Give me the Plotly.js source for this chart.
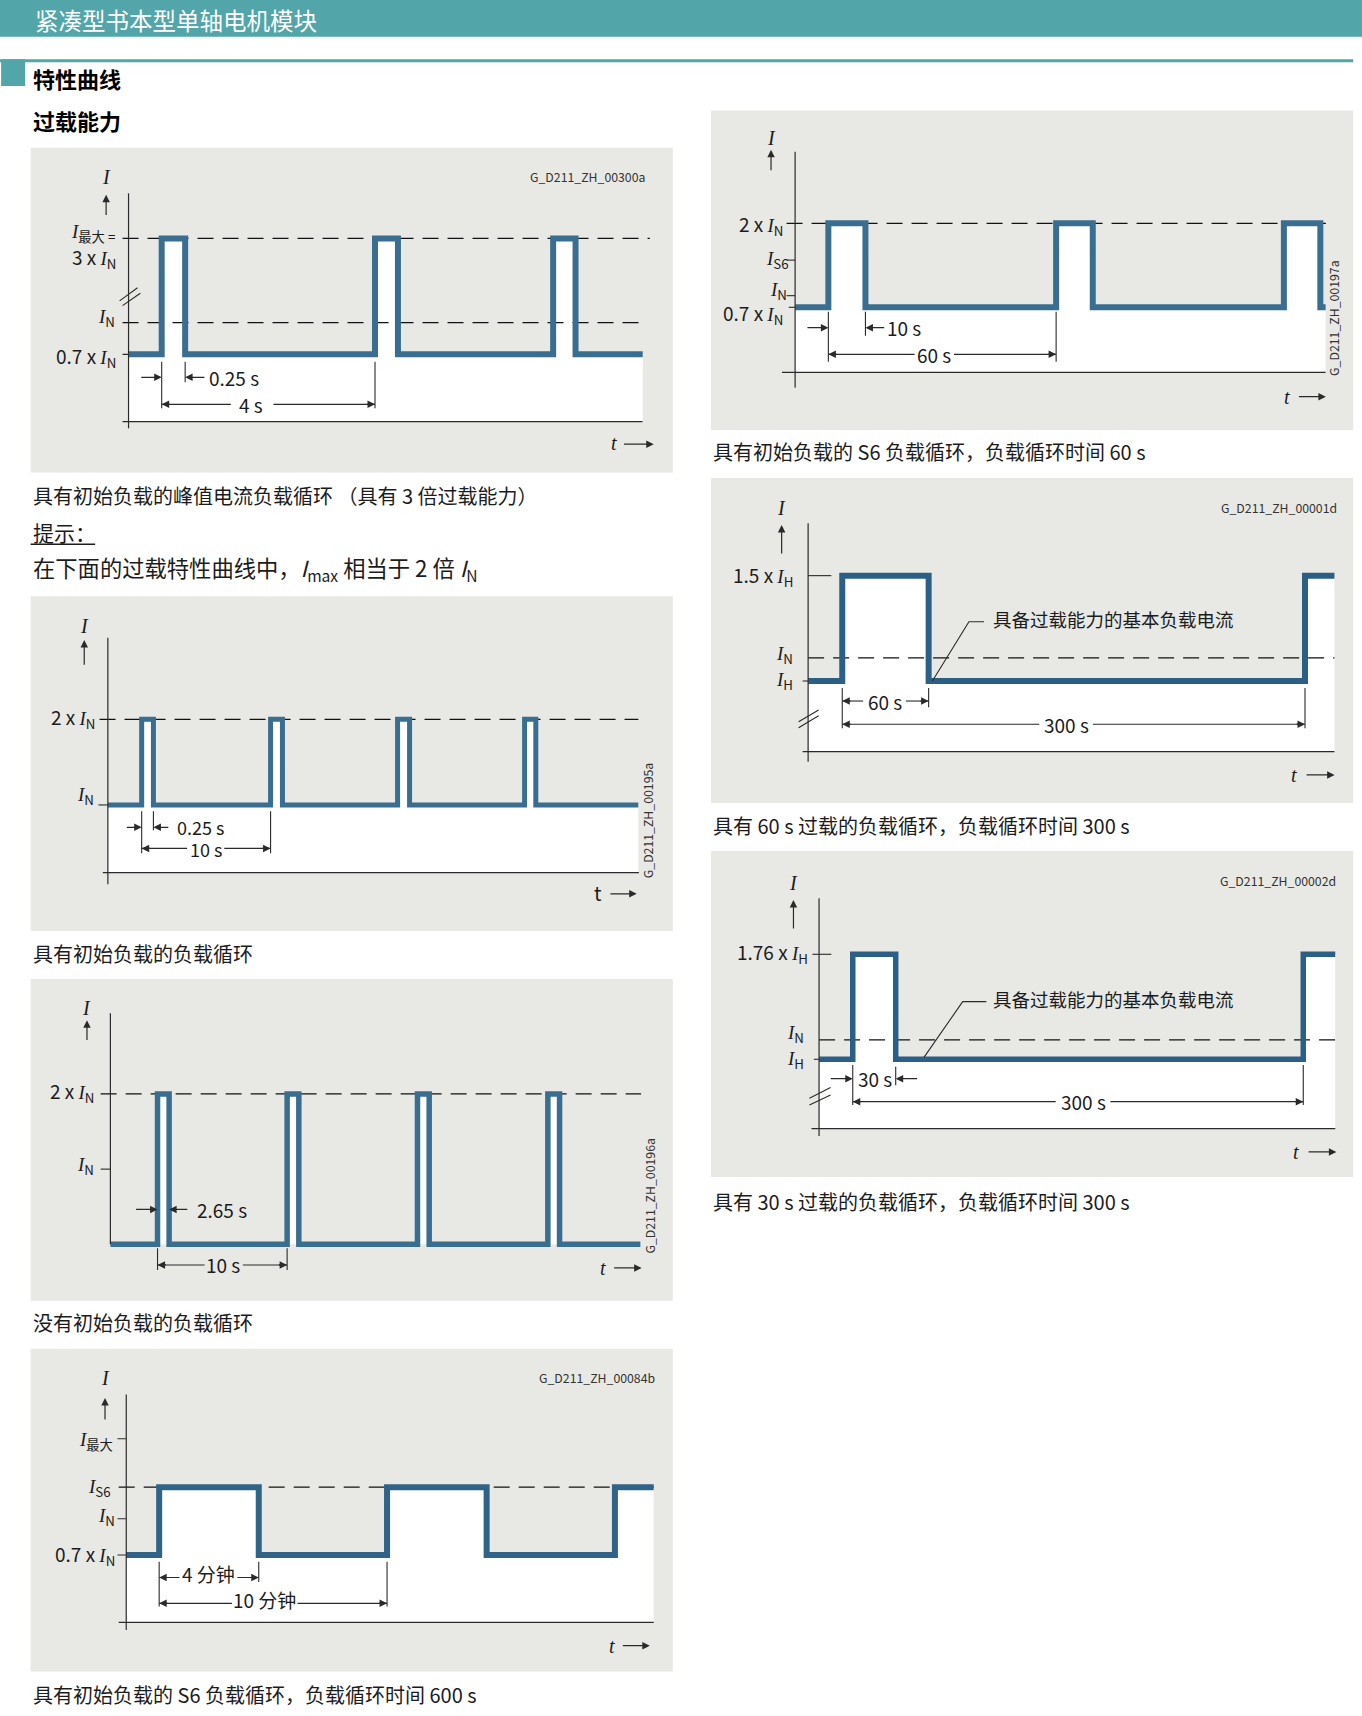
<!DOCTYPE html>
<html>
<head>
<meta charset="utf-8">
<script src="https://cdn.plot.ly/plotly-3.0.1.min.js"></script>
<style>
html,body{margin:0;padding:0;background:#ffffff;}
#chart{width:1362px;height:1716px;}
</style>
</head>
<body>
<div id="chart"></div>
<script>
// ================= DATA (schematic values) =================
const SI = '<span style="font-family:Liberation Serif"><i>I</i></span>';
function lbl(pre, sub) { return pre + SI + '<sub>' + sub + '</sub>'; }

// Panel 1 – peak current duty cycle with initial load (3 x overload); t in s, I in multiples of I_N
const p1Rise = [0, 4, 7.34];
const p1Fall = [0.44, 4.43, 7.76];
const p1Span = [-0.62, 9.02];
const p1Base = 0.7;
const p1Peak = 1.8;                       // I_max = 3 x I_N, drawn compressed above the axis break
const p1RefLevels = [1.8, 1.0];           // dashed: I_max, I_N
const p1TickLevels = [1.8, 1.8, 1.0, 0.7];
const p1TickLabels = [lbl('', '最大 ='), lbl('3 x ', 'N'), lbl('', 'N'), lbl('0.7 x ', 'N')];
const p1DimLabels = ['0.25 s', '4 s'];

// Panel 2 – duty cycle with initial load
const p2Rise = [0, 10.1, 20.05, 30];
const p2Fall = [0.92, 11.03, 20.99, 30.88];
const p2Span = [-2.65, 38.91];
const p2Base = 1.0;
const p2Peak = 2.0;
const p2RefLevels = [2.0];
const p2TickLevels = [2.0, 1.0];
const p2TickLabels = [lbl('2 x ', 'N'), lbl('', 'N')];
const p2DimLabels = ['0.25 s', '10 s'];

// Panel 3 – duty cycle without initial load
const p3Rise = [0, 9.96, 19.98, 30];
const p3Fall = [0.89, 10.86, 20.88, 30.9];
const p3Span = [-3.62, 37.11];
const p3Base = 0;
const p3Peak = 2.0;
const p3RefLevels = [2.0];
const p3TickLevels = [2.0, 1.0];
const p3TickLabels = [lbl('2 x ', 'N'), lbl('', 'N')];
const p3DimLabels = ['2.65 s', '10 s'];

// Panel 4 – S6 duty cycle with initial load, 600 s (t in min)
const p4Rise = [0, 10, 20];
const p4Fall = [4.37, 14.37];
const p4Span = [-1.45, 21.7];
const p4Base = 0.7;
const p4Peak = 1.26;                      // I_S6
const p4RefLevels = [1.26];
const p4TickLevels = [1.66, 1.26, 1.0, 0.7];
const p4TickLabels = [lbl('', '最大'), lbl('', 'S6'), lbl('', 'N'), lbl('0.7 x ', 'N')];
const p4DimLabels = ['4 分钟', '10 分钟'];

// Panel 5 – S6 duty cycle with initial load, 60 s
const p5Rise = [0, 60, 120];
const p5Fall = [9.77, 69.65, 129.6];
const p5Span = [-8.76, 131.0];
const p5Base = 0.7;
const p5Peak = 2.0;
const p5RefLevels = [2.0];
const p5TickLevels = [2.0, 1.43, 0.88, 0.7];
const p5TickLabels = [lbl('2 x ', 'N'), lbl('', 'S6'), lbl('', 'N'), lbl('0.7 x ', 'N')];
const p5DimLabels = ['10 s', '60 s'];

// Panel 6 – 60 s overload, 300 s cycle (I in multiples of I_H)
const p6Rise = [0, 300];
const p6Fall = [56];
const p6Span = [-22.1, 319.1];
const p6Base = 1.0;
const p6Peak = 1.5;
const p6RefLevels = [1.11];
const p6TickLevels = [1.5, 1.11, 1.0];
const p6TickLabels = [lbl('1.5 x ', 'H'), lbl('', 'N'), lbl('', 'H')];
const p6DimLabels = ['60 s', '300 s'];

// Panel 7 – 30 s overload, 300 s cycle
const p7Rise = [0, 300];
const p7Fall = [28.6];
const p7Span = [-22.4, 321.3];
const p7Base = 1.0;
const p7Peak = 1.76;
const p7RefLevels = [1.14];
const p7TickLevels = [1.76, 1.14, 1.0];
const p7TickLabels = [lbl('1.76 x ', 'H'), lbl('', 'N'), lbl('', 'H')];
const p7DimLabels = ['30 s', '300 s'];

const figIds = ['G_D211_ZH_00300a', 'G_D211_ZH_00195a', 'G_D211_ZH_00196a', 'G_D211_ZH_00084b',
                'G_D211_ZH_00197a', 'G_D211_ZH_00001d', 'G_D211_ZH_00002d'];
const captions = [
  '具有初始负载的峰值电流负载循环 （具有 3 倍过载能力）',
  '具有初始负载的负载循环',
  '没有初始负载的负载循环',
  '具有初始负载的 S6 负载循环，负载循环时间 600 s',
  '具有初始负载的 S6 负载循环，负载循环时间 60 s',
  '具有 60 s 过载的负载循环，负载循环时间 300 s',
  '具有 30 s 过载的负载循环，负载循环时间 300 s'
];
const pageTitle = '紧凑型书本型单轴电机模块';
const sectionTitle = '特性曲线';
const subTitle = '过载能力';
const noteTitle = '提示：';
const noteText = '在下面的过载特性曲线中，<i>I</i><sub>max</sub> 相当于 2 倍 <i>I</i><sub>N</sub>';
const leaderLabel = '具备过载能力的基本负载电流';

// ================= LAYOUT HELPERS =================
const W = 1362, H = 1716, K = W / 1245;
const PX = s => s / 1245;
const PY = s => 1 - s * K / H;
const SANS = 'Noto Sans CJK SC, Noto Sans, sans-serif';
const SERIF = 'Liberation Serif, DejaVu Serif, serif';
const INK = '#1c1c1c', LINE = '#2a2a2a', BG = '#e8e8e4', TEAL = '#52a6a9';

const traces = [], shapes = [], annotations = [];
const layout = {
  width: W, height: H, autosize: false,
  margin: {l: 0, r: 0, t: 0, b: 0, pad: 0},
  paper_bgcolor: '#ffffff', plot_bgcolor: 'rgba(0,0,0,0)',
  showlegend: false, font: {family: SANS, color: INK},
  shapes: shapes, annotations: annotations
};

function pline(x0, y0, x1, y1, w, c) {
  shapes.push({type: 'line', xref: 'paper', yref: 'paper', x0: PX(x0), y0: PY(y0), x1: PX(x1), y1: PY(y1),
               line: {color: c || LINE, width: w || 1.1}});
}
function prect(x0, y0, x1, y1, c) {
  shapes.push({type: 'rect', xref: 'paper', yref: 'paper', x0: PX(x0), y0: PY(y1), x1: PX(x1), y1: PY(y0),
               fillcolor: c, line: {width: 0}, layer: 'below'});
}
function ptext(x, y, text, o) {
  const a = {xref: 'paper', yref: 'paper', x: PX(x), y: PY(y), text: text, showarrow: false,
             xanchor: 'left', yanchor: 'middle', font: {family: SANS, size: 19, color: INK}};
  annotations.push(Object.assign(a, o || {}));
}
function parrow(hx, hy, tx, ty) {
  annotations.push({xref: 'paper', yref: 'paper', x: PX(hx), y: PY(hy), ax: (tx - hx) * K, ay: (ty - hy) * K,
                    text: '', showarrow: true, arrowhead: 2, arrowsize: 1.25, arrowwidth: 1.2,
                    arrowcolor: LINE, standoff: 0});
}

function panel(k, f, d) {
  const xa = k === 1 ? 'x' : 'x' + k, ya = k === 1 ? 'y' : 'y' + k;
  const [L, T, R, B] = f.bg;
  const tt = px => (px - f.x0) / f.pps;
  const vpx = v => f.y0 - v * f.ppu;
  layout[k === 1 ? 'xaxis' : 'xaxis' + k] = {domain: [PX(L), PX(R)], range: [tt(L), tt(R)], visible: false, fixedrange: true, anchor: ya};
  layout[k === 1 ? 'yaxis' : 'yaxis' + k] = {domain: [PY(B), PY(T)], range: [(f.y0 - B) / f.ppu, (f.y0 - T) / f.ppu], visible: false, fixedrange: true, anchor: xa};
  prect(L, T, R, B, BG);

  // step waveform from the data
  const edges = d.rise.map(t => [t, 1]).concat(d.fall.map(t => [t, 0])).sort((a, b) => a[0] - b[0]);
  const wx = [d.span[0]], wy = [d.base];
  let cur = d.base;
  edges.forEach(([t, up]) => { wx.push(t); wy.push(cur); cur = up ? d.peak : d.base; wx.push(t); wy.push(cur); });
  wx.push(d.span[1]); wy.push(cur);

  const bottom = f.xAx ? (f.y0 - f.xAx[0]) / f.ppu : d.base;
  const common = {xaxis: xa, yaxis: ya, mode: 'lines', hoverinfo: 'skip', showlegend: false};
  traces.push(Object.assign({x: [d.span[0], d.span[1]], y: [bottom, bottom], line: {width: 0, color: 'rgba(0,0,0,0)'}}, common));
  traces.push(Object.assign({x: wx, y: wy, line: {width: 0, color: 'rgba(0,0,0,0)'}, fill: 'tonexty', fillcolor: '#ffffff'}, common));
  d.ref.forEach((v, i) => traces.push(Object.assign({x: [tt(f.dash[i][0]), tt(f.dash[i][1])], y: [v, v],
      line: {color: '#111', width: 1.25, dash: '16px,9px'}}, common)));
  traces.push(Object.assign({x: wx, y: wy, line: {color: f.color, width: f.lw}}, common));

  // axes
  pline(f.yAx[0], f.yAx[1], f.yAx[0], f.yAx[2], 1.2);
  if (f.xAx) pline(f.xAx[1], f.xAx[0], f.xAx[2], f.xAx[0], 1.2);
  (f.breaks || []).forEach(b => pline(b[0], b[1], b[2], b[3], 1.1));
  // ticks at levels
  f.ticks.forEach(([a, b, v]) => shapes.push({type: 'line', xref: 'paper', yref: ya, x0: PX(a), x1: PX(b), y0: v, y1: v,
      line: {color: LINE, width: 1.1}}));
  // tick labels
  d.tickLabels.forEach((s, i) => {
    const v = d.tickLevels[i], [rx, cy] = f.labelPos[i];
    annotations.push({xref: 'paper', yref: ya, x: PX(rx), y: v, yshift: (vpx(v) - cy) * K, text: s, showarrow: false,
      xanchor: 'right', yanchor: 'middle', font: {family: SANS, size: 19, color: INK}});
  });
  // axis titles
  ptext(f.Ilab[0], f.Ilab[1], '<i>I</i>', {xanchor: 'center', font: {family: SERIF, size: 20, color: INK}});
  parrow(f.Iarr[0], f.Iarr[1], f.Iarr[0], f.Iarr[2]);
  ptext(f.tlab[0], f.tlab[1], f.tUpright ? 't' : '<i>t</i>', {xanchor: 'center', font: {family: f.tUpright ? SANS : SERIF, size: 20, color: INK}});
  parrow(f.tarr[1], f.tarr[2], f.tarr[0], f.tarr[2]);
  // figure id
  ptext(f.id[0], f.id[1], d.id, {xanchor: 'center', textangle: f.id[2], font: {family: SANS, size: 12.3, color: '#333'}});
  // caption
  ptext(f.cap[0], f.cap[1], d.caption, {font: {family: SANS, size: 20, color: INK}});

  // dimensioning
  (f.ext || []).forEach(([t, y0, y1]) => shapes.push({type: 'line', xref: xa, yref: 'paper', x0: t, x1: t, y0: PY(y0), y1: PY(y1),
      line: {color: LINE, width: 1.1}}));
  (f.arrows || []).forEach(([t, y, len]) => annotations.push({xref: xa, yref: 'paper', x: t, y: PY(y), ax: len * K, ay: 0,
      text: '', showarrow: true, arrowhead: 2, arrowsize: 1.25, arrowwidth: 1.2, arrowcolor: LINE, standoff: 0}));
  (f.dbl || []).forEach(([t1, t2, y, g0, g1]) => {
    const segs = g0 ? [[t1, tt(g0)], [tt(g1), t2]] : [[t1, t2]];
    segs.forEach(([a, b]) => shapes.push({type: 'line', xref: xa, yref: 'paper', x0: a, x1: b, y0: PY(y), y1: PY(y),
      line: {color: LINE, width: 1.1}}));
    annotations.push({xref: xa, yref: 'paper', x: t1, y: PY(y), ax: 9 * K, ay: 0, text: '', showarrow: true, arrowhead: 2,
      arrowsize: 1.25, arrowwidth: 1.2, arrowcolor: LINE, standoff: 0});
    annotations.push({xref: xa, yref: 'paper', x: t2, y: PY(y), ax: -9 * K, ay: 0, text: '', showarrow: true, arrowhead: 2,
      arrowsize: 1.25, arrowwidth: 1.2, arrowcolor: LINE, standoff: 0});
  });
  (f.dimText || []).forEach(([i, x, y, anc, fs]) => ptext(x, y, d.dimLabels[i], {xanchor: anc,
      font: {family: SANS, size: fs || 19, color: INK}}));
}

// ================= PAGE =================
prect(0, 0, 1245, 33.5, TEAL);
ptext(30, 18.5, pageTitle, {font: {family: SANS, size: 23.5, color: '#ffffff'}});
prect(0, 54.2, 1237, 56.9, TEAL);
prect(1, 54.2, 23, 78.6, TEAL);
ptext(28, 71, '<b>' + sectionTitle + '</b>', {font: {family: SANS, size: 22, color: '#000'}});
ptext(28, 110, '<b>' + subTitle + '</b>', {font: {family: SANS, size: 22, color: '#000'}});
ptext(28, 486, noteTitle, {font: {family: SANS, size: 21, color: INK}});
pline(28, 497.5, 87, 497.5, 1.4, INK);
ptext(28, 520, noteText, {font: {family: SANS, size: 22.3, color: INK}});

panel(1, {bg: [28, 135, 615, 432], x0: 147.8, pps: 48.75, y0: 391.33, ppu: 96.33, color: '#3a6e90', lw: 6,
  yAx: [117.5, 176.7, 391.5], xAx: [385.4, 112, 587.3], dash: [[112, 594], [112, 587.3]],
  breaks: [[109.3, 275, 125.7, 263], [112, 279.4, 128.3, 268.1]],
  ticks: [[112, 117.5, p1Base]],
  labelPos: [[107, 213.5], [107.5, 235.5], [107, 291.5], [107.5, 326.5]],
  Ilab: [97, 162], Iarr: [97, 178, 198], tlab: [561, 405], tarr: [569, 597.6, 406], id: [536.8, 161.5, 0], cap: [28, 453],
  ext: [[p1Rise[0], 330.6, 373.2], [p1Fall[0], 330.6, 349.5], [p1Rise[1], 330.6, 373.2]],
  arrows: [[p1Rise[0], 344.9, -20], [p1Fall[0], 344.9, 19]],
  dbl: [[p1Rise[0], p1Rise[1], 369.6, 211, 250]],
  dimText: [[0, 189, 345, 'left'], [1, 229, 369.6, 'center']]
}, {rise: p1Rise, fall: p1Fall, span: p1Span, base: p1Base, peak: p1Peak, ref: p1RefLevels,
    tickLevels: p1TickLevels, tickLabels: p1TickLabels, dimLabels: p1DimLabels, id: figIds[0], caption: captions[0]});

panel(2, {bg: [28, 545, 615, 851], x0: 129.5, pps: 11.667, y0: 814.1, ppu: 78.3, color: '#3a6e90', lw: 5,
  yAx: [98.6, 582.9, 808.3], xAx: [797.7, 94, 584], dash: [[91, 583.5]],
  ticks: [[90, 98.6, p2Base]],
  labelPos: [[88.4, 656], [88, 728]],
  Ilab: [77, 572], Iarr: [77, 585, 609], tlab: [546.6, 816], tUpright: true, tarr: [556.6, 582, 817], id: [593, 750, -90], cap: [28, 872],
  ext: [[p2Rise[0], 741.6, 780], [p2Fall[0], 741.6, 759], [p2Rise[1], 741.6, 780]],
  arrows: [[p2Rise[0], 756.3, -15], [p2Fall[0], 756.3, 15]],
  dbl: [[p2Rise[0], p2Rise[1], 775.5, 171, 205]],
  dimText: [[0, 160, 756, 'left', 18], [1, 188, 776, 'center', 18]]
}, {rise: p2Rise, fall: p2Fall, span: p2Span, base: p2Base, peak: p2Peak, ref: p2RefLevels,
    tickLevels: p2TickLevels, tickLabels: p2TickLabels, dimLabels: p2DimLabels, id: figIds[1], caption: captions[1]});

panel(3, {bg: [28, 895, 615, 1189], x0: 144, pps: 11.893, y0: 1137.4, ppu: 68.7, color: '#3a6e90', lw: 5.5,
  yAx: [100.9, 926.3, 1137.4], xAx: null, dash: [[92, 586]],
  ticks: [[92, 100.9, p3TickLevels[1]]],
  labelPos: [[88, 998.5], [88, 1066]],
  Ilab: [79.5, 921.6], Iarr: [79.5, 932.5, 952], tlab: [551, 1159], tarr: [560, 586.5, 1159], id: [594, 1093, -90], cap: [28, 1209],
  ext: [[p3Rise[0], 1141, 1161], [p3Rise[1], 1141, 1161]],
  arrows: [[p3Rise[0], 1105.5, -21], [p3Fall[0], 1105.5, 18]],
  dbl: [[p3Rise[0], p3Rise[1], 1156.3, 187, 222]],
  dimText: [[0, 178, 1105.5, 'left'], [1, 204, 1156.3, 'center']]
}, {rise: p3Rise, fall: p3Fall, span: p3Span, base: p3Base, peak: p3Peak, ref: p3RefLevels,
    tickLevels: p3TickLevels, tickLabels: p3TickLabels, dimLabels: p3DimLabels, id: figIds[2], caption: captions[2]});

panel(4, {bg: [28, 1233, 615, 1528], x0: 145.5, pps: 20.83, y0: 1498.9, ppu: 110.67, color: '#2f6387', lw: 6,
  yAx: [115.4, 1274.6, 1490], xAx: [1483, 108.5, 597.6], dash: [[108.5, 597.6]],
  ticks: [[107.4, 115.4, p4TickLevels[0]], [107.4, 115.4, p4TickLevels[2]], [107.4, 115.4, p4Base]],
  labelPos: [[105, 1317.5], [103, 1360.5], [107, 1387], [107, 1421.5]],
  Ilab: [96, 1260], Iarr: [96, 1278, 1299], tlab: [559.5, 1504.3], tarr: [568, 594, 1504.3], id: [546, 1259.5, 0], cap: [28, 1549],
  ext: [[p4Rise[0], 1427.6, 1468.6], [p4Fall[0], 1427.6, 1446], [p4Rise[1], 1427.6, 1468.6]],
  dbl: [[p4Rise[0], p4Fall[0], 1442, 164, 217], [p4Rise[0], p4Rise[1], 1465.6, 212, 272]],
  dimText: [[0, 191, 1438, 'center'], [1, 242, 1462, 'center']]
}, {rise: p4Rise, fall: p4Fall, span: p4Span, base: p4Base, peak: p4Peak, ref: p4RefLevels,
    tickLevels: p4TickLevels, tickLabels: p4TickLabels, dimLabels: p4DimLabels, id: figIds[3], caption: captions[3]});

panel(5, {bg: [650, 101, 1237, 393], x0: 757.2, pps: 3.47, y0: 322.26, ppu: 59.08, color: '#3a6e90', lw: 6,
  yAx: [726.8, 138.6, 354.4], xAx: [340.3, 714.8, 1211.7], dash: [[719, 1212]],
  ticks: [[719, 726.8, p5TickLevels[1]], [719, 726.8, p5TickLevels[2]], [721, 726.8, p5Base]],
  labelPos: [[717.6, 206], [723, 238.5], [721, 266.6], [717.6, 287]],
  Ilab: [704.8, 126.4], Iarr: [704.8, 137, 157], tlab: [1176.5, 362.6], tarr: [1186, 1212, 362.6], id: [1219.9, 291, -90], cap: [650, 413],
  ext: [[p5Rise[0], 285, 330.6], [p5Fall[0], 285, 307], [p5Rise[1], 285, 330.6]],
  arrows: [[p5Rise[0], 299.5, -20.5], [p5Fall[0], 299.5, 18.5]],
  dbl: [[p5Rise[0], p5Rise[1], 323.9, 836, 872]],
  dimText: [[0, 809, 299.5, 'left'], [1, 854, 323.9, 'center']]
}, {rise: p5Rise, fall: p5Fall, span: p5Span, base: p5Base, peak: p5Peak, ref: p5RefLevels,
    tickLevels: p5TickLevels, tickLabels: p5TickLabels, dimLabels: p5DimLabels, id: figIds[4], caption: captions[4]});

panel(6, {bg: [650, 437, 1237, 734], x0: 769.9, pps: 1.41, y0: 815.1, ppu: 192.6, color: '#2b5f86', lw: 6,
  yAx: [738.7, 478.4, 696.2], xAx: [687.1, 733.7, 1219.8], dash: [[738.7, 1219.8]],
  breaks: [[730, 659.7, 748.3, 649], [730, 665.2, 748.3, 654.2]],
  ticks: [[738.7, 759.9, p6Peak], [733.7, 738.7, p6Base]],
  labelPos: [[727, 526.5], [727, 599], [727, 623]],
  Ilab: [714.5, 464.6], Iarr: [714.5, 480, 507.3], tlab: [1182.5, 708.4], tarr: [1193, 1220, 708.4], id: [1169, 464.5, 0], cap: [650, 755],
  ext: [[p6Rise[0], 629, 665.7], [p6Fall[0], 629, 646.5], [p6Rise[1], 629, 665.7]],
  dbl: [[p6Rise[0], p6Fall[0], 640.8, 789, 828], [p6Rise[0], p6Rise[1], 662, 950, 999]],
  dimText: [[0, 809, 640.8, 'center'], [1, 975, 662, 'center']]
}, {rise: p6Rise, fall: p6Fall, span: p6Span, base: p6Base, peak: p6Peak, ref: p6RefLevels,
    tickLevels: p6TickLevels, tickLabels: p6TickLabels, dimLabels: p6DimLabels, id: figIds[5], caption: captions[5]});

panel(7, {bg: [650, 778, 1237, 1076], x0: 779.5, pps: 1.3727, y0: 1094.6, ppu: 126.3, color: '#2b5f86', lw: 5.5,
  yAx: [748.7, 821.2, 1038.4], xAx: [1031.7, 741.8, 1220.6], dash: [[748.7, 1220.6]],
  breaks: [[739.9, 1010, 759.2, 1001], [739.9, 1004, 759.2, 994]],
  ticks: [[742.6, 759.9, p7Peak], [744, 748.7, p7Base]],
  labelPos: [[740.5, 871.5], [737, 946], [737, 969.6]],
  Ilab: [725.3, 807.4], Iarr: [725.3, 822.7, 850], tlab: [1185, 1052.8], tarr: [1194.8, 1221.6, 1053], id: [1168.5, 805, 0], cap: [650, 1098],
  ext: [[p7Rise[0], 973.5, 1010], [p7Fall[0], 975, 992], [p7Rise[1], 973.5, 1010]],
  arrows: [[p7Rise[0], 986, -21.5], [p7Fall[0], 986, 21]],
  dbl: [[p7Rise[0], p7Rise[1], 1007, 965, 1015]],
  dimText: [[0, 800, 986, 'center'], [1, 990, 1007, 'center']]
}, {rise: p7Rise, fall: p7Fall, span: p7Span, base: p7Base, peak: p7Peak, ref: p7RefLevels,
    tickLevels: p7TickLevels, tickLabels: p7TickLabels, dimLabels: p7DimLabels, id: figIds[6], caption: captions[6]});

// leader notes (panels 6 & 7)
ptext(906, 566, leaderLabel, {font: {family: SANS, size: 18.5, color: INK}});
shapes.push({type: 'path', xref: 'paper', yref: 'paper', line: {color: LINE, width: 1.1},
  path: `M${PX(899.5)},${PY(568.3)} L${PX(885.7)},${PY(568.3)} L${PX(852.3)},${PY(622.5)}`});
ptext(905.5, 913, leaderLabel, {font: {family: SANS, size: 18.5, color: INK}});
shapes.push({type: 'path', xref: 'paper', yref: 'paper', line: {color: LINE, width: 1.1},
  path: `M${PX(901.6)},${PY(915.6)} L${PX(880)},${PY(915.6)} L${PX(844.6)},${PY(966.5)}`});

Plotly.newPlot('chart', traces, layout, {staticPlot: true, displayModeBar: false});
</script>
</body>
</html>
